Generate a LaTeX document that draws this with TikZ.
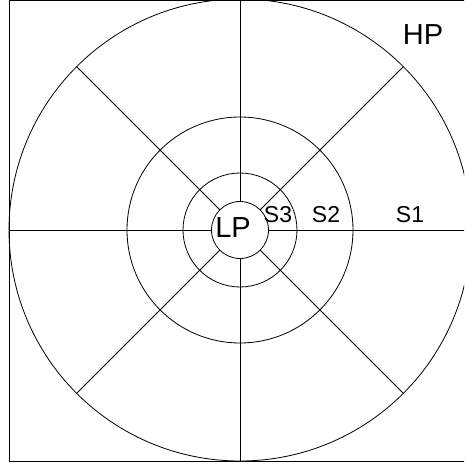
\documentclass[tikz,border=0pt]{standalone}
\usepackage{fontspec}
\setmainfont{Liberation Sans}
\usetikzlibrary{positioning}

\begin{document}
\begin{tikzpicture}[
    x=1pt, y=1pt,
    ring/.style={draw, line width=0.8pt},
    spoke/.style={draw, line width=0.8pt},
    big/.style={font=\fontsize{29}{29}\selectfont},
    band/.style={font=\fontsize{23}{23}\selectfont}
]
    \clip (-240,-236) rectangle (224,230);
    \useasboundingbox (-240,-236) rectangle (224,230);

    % frame and rings
    \draw[line width=0.8pt] (-231,-231) rectangle (231,230);
    \coordinate (c) at (0,0);
    \draw[ring] (c) circle (28.5);
    \draw[ring] (c) circle (57);
    \draw[ring] (c) circle (113);
    \draw[ring] (c) circle (231);

    % spokes
    \foreach \a in {45,135,225,315}
        \draw[spoke] (\a:28.5) -- (\a:231);
    \draw[spoke] (0,28.5) -- (0,231);
    \draw[spoke] (0,-28.5) -- (0,-231);
    \draw[spoke] (-28.5,0) -- (-231,0);
    \draw[spoke] (28.5,0) -- (231,0);

    % labels
    \node[big] (lp) at (-7,2.5) {LP};
    \node[big] (hp) at (183,195) {HP};
    \node[band] (s3) at (38,15.5) {S3};
    \node[band] (s2) at (86,15) {S2};
    \node[band] (s1) at (170,15) {S1};
\end{tikzpicture}
\end{document}
